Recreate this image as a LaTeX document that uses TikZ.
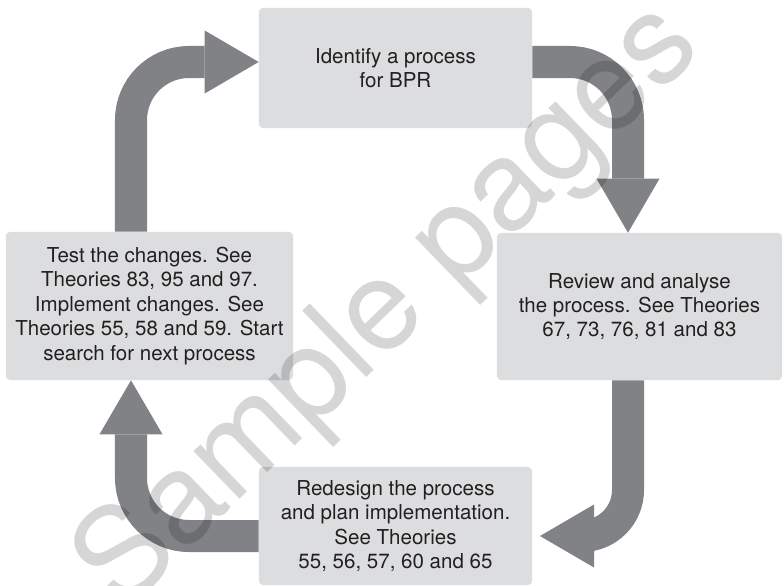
\documentclass[tikz,border=0pt]{standalone}
\usepackage{fontspec}
\setmainfont{TeX Gyre Heros}
\usetikzlibrary{arrows.meta}

\definecolor{boxgray}{HTML}{DCDDDF}
\definecolor{arrowgray}{HTML}{808285}
\definecolor{textgray}{HTML}{231F20}

\tikzset{
  stage/.style={fill=boxgray, rounded corners=0.1cm, align=center, text=textgray,
    inner sep=0pt, font=\fontsize{14.6}{17.4}\selectfont},
  flow/.style={draw=arrowgray, line width=0.8cm, rounded corners=1.45cm,
    -{Triangle[length=1.35cm, width=1.575cm, line width'=0pt]}},
}

\begin{document}
\begin{tikzpicture}[x=0.025cm, y=-0.025cm]
  \useasboundingbox (0,0) rectangle (784,586);

  % lanes of the arrows
  \coordinate (leftlane) at (131,0);
  \coordinate (rightlane) at (628,0);
  \coordinate (toplane) at (0,62);
  \coordinate (botlane) at (0,536);
  \coordinate (tip3) at (540,536);

  % the four stages
  \node[stage, minimum width=6.825cm, minimum height=3cm] (identify) at (395.5,68)
    {Identify a process\\for BPR};
  \node[stage, minimum width=7.125cm, minimum height=3.675cm] (review) at (639.5,306.5)
    {Review and analyse\\the process. See Theories\\67, 73, 76, 81 and 83};
  \node[stage, minimum width=6.825cm, minimum height=2.95cm] (redesign) at (395.5,526)
    {Redesign the process\\and plan implementation.\\See Theories\\55, 56, 57, 60 and 65};
  \node[stage, minimum width=7.175cm, minimum height=3.7cm] (test) at (149.5,306)
    {Test the changes. See\\Theories 83, 95 and 97.\\Implement changes. See\\Theories 55, 58 and 59. Start\\search for next process};

  % cycle
  \draw[flow] (test.north -| leftlane) |- (identify.west |- toplane);
  \draw[flow] (identify.east |- toplane) -| (review.north -| rightlane);
  \draw[flow, rounded corners=1.15cm] (review.south -| rightlane) |- (tip3);
  \draw[flow] (redesign.west |- botlane) -| (test.south -| leftlane);

  % watermark
  \node[rotate=44, text=black, text opacity=0.16, font=\fontsize{90}{90}\selectfont]
    (mark) at (390,308) {Sample pages};
\end{tikzpicture}
\end{document}
